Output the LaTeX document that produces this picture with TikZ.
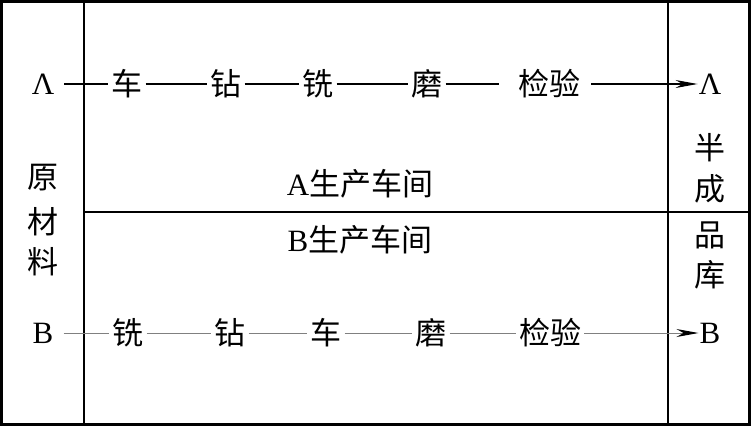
\documentclass[tikz,border=0pt]{standalone}
\usepackage{fontspec}
\setmainfont{Liberation Serif}
\newfontfamily\cjk{Noto Sans CJK SC}
\usetikzlibrary{arrows.meta}
\begin{document}
\begin{tikzpicture}[x=1pt,y=-1pt,
  lbl/.style={font=\fontsize{31}{31}\selectfont, inner sep=4pt},
  cj/.style={font=\fontsize{31}{31}\selectfont\cjk, inner sep=3pt},
  vt/.style={font=\fontsize{31}{31}\selectfont\cjk, inner sep=0pt},
  flowA/.style={line width=1.1pt, black},
  flowB/.style={line width=1pt, black!50},
  tip/.style={-{Stealth[length=22pt,width=8pt,inset=7pt,color=black]}},
  frame/.style={line width=2.6pt},
  divider/.style={line width=1.6pt}
]
\useasboundingbox (0,0) rectangle (751,426);
% frame
\coordinate (tl) at (1.5,1.5);
\coordinate (br) at (749.5,424.5);
\draw[frame] (tl) rectangle (br);
\coordinate (d1t) at (84,1.5);
\coordinate (d1b) at (84,424.5);
\coordinate (d2t) at (668,1.5);
\coordinate (d2b) at (668,424.5);
\draw[divider] (d1t) -- (d1b);
\draw[divider] (d2t) -- (d2b);
\coordinate (ml) at (84,212);
\coordinate (mr) at (749.5,212);
\draw[frame] (ml) -- (mr);

% side labels
\node[vt] (y1) at (43,178) {原};
\node[vt] (y2) at (43,222) {材};
\node[vt] (y3) at (43,262) {料};
\node[vt] (s1) at (710,148) {半};
\node[vt] (s2) at (710,189) {成};
\node[vt] (s3) at (710,235) {品};
\node[vt] (s4) at (710,275) {库};

% workshop labels
\node[cj] (wa) at (360,184) {{\fontspec{Liberation Serif}A}生产车间};
\node[cj] (wb) at (360,240) {{\fontspec{Liberation Serif}B}生产车间};

% row A
\node[lbl] (a0) at (43,84) {Λ};
\node[cj] (a1) at (127,84) {车};
\node[cj] (a2) at (226,84) {钻};
\node[cj] (a3) at (318,84) {铣};
\node[cj] (a4) at (427,84) {磨};
\node[cj, inner xsep=11pt] (a5) at (549,84) {检验};
\node[lbl] (a6) at (710,84) {Λ};
\draw[flowA, shorten <=6pt] (a0) -- (a1);
\draw[flowA] (a1) -- (a2);
\draw[flowA] (a2) -- (a3);
\draw[flowA] (a3) -- (a4);
\draw[flowA, shorten >=8pt] (a4) -- (a5);
\draw[flowA, tip, shorten >=-3pt] (a5) -- (a6);

% row B
\node[lbl] (b0) at (43,333) {B};
\node[cj] (b1) at (128,333) {铣};
\node[cj] (b2) at (230,333) {钻};
\node[cj] (b3) at (326,333) {车};
\node[cj] (b4) at (431,333) {磨};
\node[cj] (b5) at (550,333) {检验};
\node[lbl] (b6) at (710,333) {B};
\draw[flowB, shorten <=6pt] (b0) -- (b1);
\draw[flowB] (b1) -- (b2);
\draw[flowB] (b2) -- (b3);
\draw[flowB] (b3) -- (b4);
\draw[flowB] (b4) -- (b5);
\draw[flowB, tip, shorten >=-3pt] (b5) -- (b6);
\end{tikzpicture}
\end{document}
